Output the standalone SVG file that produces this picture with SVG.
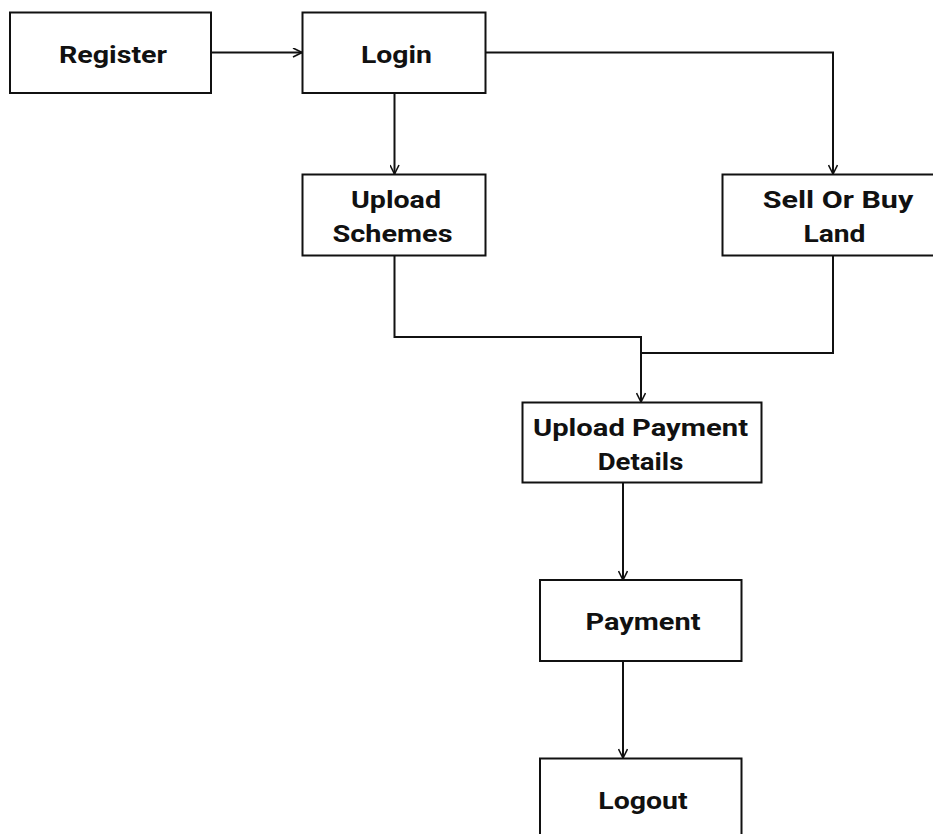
<svg xmlns="http://www.w3.org/2000/svg" width="933" height="834" viewBox="0 0 933 834">
<style>
.box{fill:#fff;stroke:#111;stroke-width:2}
.lbl{font-family:Roboto,"Liberation Sans",sans-serif;font-weight:bold;font-size:24.5px;fill:#111;text-anchor:middle}
.edge{fill:none;stroke:#111;stroke-width:2}
</style>
<defs>
<marker id="arr" viewBox="0 0 10 10" refX="10" refY="5" markerWidth="10" markerHeight="10" markerUnits="userSpaceOnUse" orient="auto">
<path d="M1,0.5 L10,5 L1,9.5" fill="none" stroke="#111" stroke-width="1.6"/>
</marker>
</defs>
<rect width="933" height="834" fill="#fff"/>
<g id="connectors">
<path class="edge" d="M211,52.5 H302" marker-end="url(#arr)"/>
<path class="edge" d="M486,52.5 H833 V174" marker-end="url(#arr)"/>
<path class="edge" d="M394.5,93 V174" marker-end="url(#arr)"/>
<path class="edge" d="M394.5,256 V337 H641 V402" marker-end="url(#arr)"/>
<path class="edge" d="M833,256 V353 H641"/>
<path class="edge" d="M623,482 V580" marker-end="url(#arr)"/>
<path class="edge" d="M623,661 V758" marker-end="url(#arr)"/>
</g>
<g id="register"><rect class="box" x="10" y="12.5" width="201" height="80.5"/><text class="lbl" x="113" y="63.3" textLength="108" lengthAdjust="spacingAndGlyphs">Register</text></g>
<g id="login"><rect class="box" x="302.5" y="12.5" width="183" height="80.5"/><text class="lbl" x="396.5" y="63.3" textLength="71" lengthAdjust="spacingAndGlyphs">Login</text></g>
<g id="upload-schemes"><rect class="box" x="302.5" y="174.5" width="183" height="81"/><text class="lbl" x="396" y="208.3" textLength="90" lengthAdjust="spacingAndGlyphs">Upload</text><text class="lbl" x="392.5" y="242" textLength="120" lengthAdjust="spacingAndGlyphs">Schemes</text></g>
<g id="sell-or-buy-land"><rect class="box" x="722.5" y="174.5" width="220" height="81"/><text class="lbl" x="838" y="208.3" textLength="150.6" lengthAdjust="spacingAndGlyphs">Sell Or Buy</text><text class="lbl" x="834.5" y="242" textLength="62" lengthAdjust="spacingAndGlyphs">Land</text></g>
<g id="upload-payment-details"><rect class="box" x="522.5" y="402.5" width="239" height="80"/><text class="lbl" x="640.5" y="435.5" textLength="215" lengthAdjust="spacingAndGlyphs">Upload Payment</text><text class="lbl" x="640.5" y="470" textLength="85.6" lengthAdjust="spacingAndGlyphs">Details</text></g>
<g id="payment"><rect class="box" x="540" y="580" width="201.5" height="81"/><text class="lbl" x="643" y="630" textLength="115" lengthAdjust="spacingAndGlyphs">Payment</text></g>
<g id="logout"><rect class="box" x="540" y="758.5" width="201.5" height="90"/><text class="lbl" x="643" y="809" textLength="89.4" lengthAdjust="spacingAndGlyphs">Logout</text></g>
</svg>
